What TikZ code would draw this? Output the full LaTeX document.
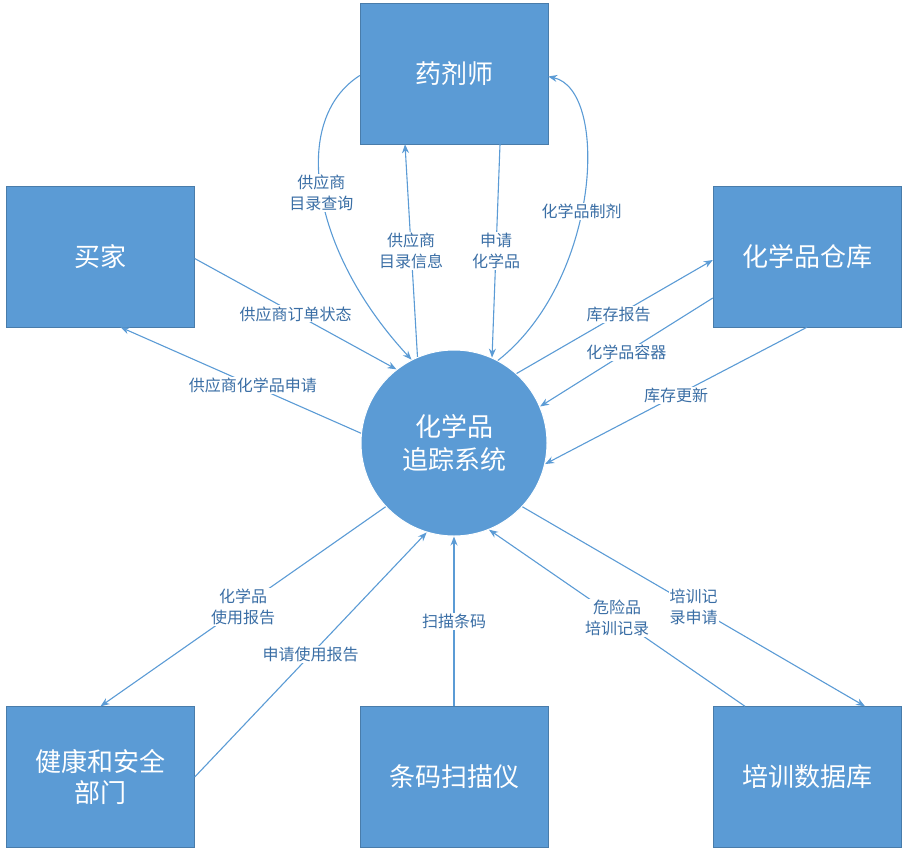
\documentclass[tikz,border=0pt]{standalone}
\usepackage{fontspec}
\setmainfont{Noto Sans CJK SC}
\usetikzlibrary{arrows.meta}
\definecolor{bx}{HTML}{5B9BD5}
\definecolor{lbl}{HTML}{3A6EA5}
\tikzset{
 ent/.style={fill=bx,draw=bx!80!black,line width=0.4pt,minimum width=188pt,minimum height=141pt,text=white,font=\fontsize{26}{31}\selectfont,align=center,inner sep=0pt},
 proc/.style={circle,fill=bx,draw=white,line width=1pt,minimum size=186pt,text=white,font=\fontsize{26}{33}\selectfont,align=center},
 flow/.style={draw=bx,line width=1.1pt,-{Stealth[length=9pt,width=7pt]}},
 lab/.style={fill=white,text=lbl,font=\fontsize{16}{21}\selectfont,align=center,inner sep=1pt}
}
\begin{document}
\begin{tikzpicture}[x=1pt,y=-1pt]
\useasboundingbox (0,0) rectangle (909,857);
\node[ent] (yj) at (454,73.5) {药剂师};
\node[ent] (mj) at (100.5,256.5) {买家};
\node[ent] (ck) at (807,256.5) {化学品仓库};
\node[ent] (jk) at (100.5,777) {健康和安全\\部门};
\node[ent] (tm) at (454,777) {条码扫描仪};
\node[ent] (px) at (807,777) {培训数据库};
\node[proc] (sys) at (454,443) {化学品\\追踪系统};

\draw[flow] ([yshift=-2pt]yj.west) .. controls (290,120) and (310,250) .. (sys.117) node[lab,pos=0.5] {供应商\\目录查询};
\draw[flow] (sys.113) -- ([xshift=-49pt]yj.south) node[lab,pos=0.5] {供应商\\目录信息};
\draw[flow] ([xshift=46pt]yj.south) -- (sys.66) node[lab,pos=0.5] {申请\\化学品};
\draw[flow] (sys.62) .. controls (600,280) and (610,90) .. ([yshift=-3pt]yj.east) node[lab,pos=0.45] {化学品制剂};
\draw[flow] ([yshift=-2pt]mj.east) -- (sys.128) node[lab,pos=0.5] {供应商订单状态};
\draw[flow] (sys.174) -- ([xshift=20pt]mj.south) node[lab,pos=0.45] {供应商化学品申请};
\draw[flow] (sys.48) -- ([yshift=-3.5pt]ck.west) node[lab,pos=0.52] {库存报告};
\draw[flow] ([yshift=-41.5pt]ck.west) -- (sys.23) node[lab,pos=0.5] {化学品容器};
\draw[flow] (ck.south) -- (sys.-13) node[lab,pos=0.5] {库存更新};
\draw[flow] (sys.223) -- (jk.north) node[lab,pos=0.5] {化学品\\使用报告};
\draw[flow] (jk.east) -- (sys.253) node[lab,pos=0.5] {申请使用报告};
\draw[flow] (tm.north) -- (sys.270) node[lab,pos=0.5] {扫描条码};
\draw[flow] ([xshift=-62pt]px.north) -- (sys.292) node[lab,pos=0.5] {危险品\\培训记录};
\draw[flow] (sys.317) -- ([xshift=58pt]px.north) node[lab,pos=0.5] {培训记\\录申请};
\end{tikzpicture}
\end{document}
